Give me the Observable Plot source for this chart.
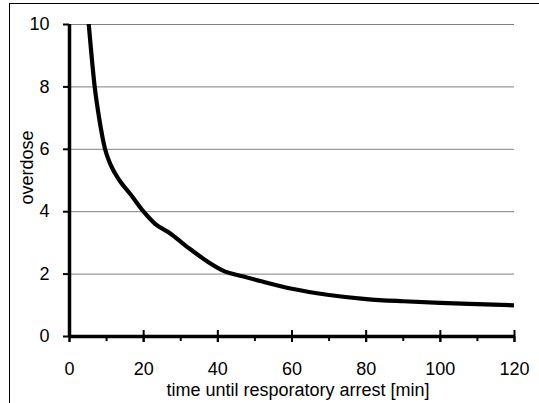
<!DOCTYPE html>
<html><head><meta charset="utf-8">
<script src="https://cdn.jsdelivr.net/npm/d3@7"></script>
<script src="https://cdn.jsdelivr.net/npm/@observablehq/plot@0.6"></script>
<style>
body{margin:0;background:#fff;}
#wrap{position:relative;width:539px;height:403px;overflow:hidden;background:#fff;}
#border{position:absolute;left:8.5px;top:2.5px;width:600px;height:500px;border-left:1.5px solid #000;border-top:1.5px solid #000;pointer-events:none;}
#chart{position:absolute;left:0;top:0;}
</style></head><body>
<div id="wrap"><div id="chart"></div><div id="border"></div></div>
<script>
const times    = [5.2, 6.8, 8.0, 9.6, 11.1, 13.5, 16.5, 20, 23, 27, 32, 37, 42, 46, 52, 60, 70, 80, 90, 100, 110, 120];
const overdose = [10, 8, 7.0, 6.0, 5.5, 5.0, 4.55, 4.0, 3.62, 3.32, 2.85, 2.42, 2.08, 1.95, 1.76, 1.53, 1.33, 1.2, 1.13, 1.08, 1.04, 1.0];
const xTicks = [0, 20, 40, 60, 80, 100, 120];
const xMinorTicks = [10, 30, 50, 70, 90, 110];
const yTicks = [0, 2, 4, 6, 8, 10];
const xLabel = "time until resporatory arrest [min]";
const yLabel = "overdose";

const data = times.map((t, i) => ({t, v: overdose[i]}));

const chart = Plot.plot({
  width: 539, height: 403,
  marginLeft: 69, marginRight: 25, marginTop: 24, marginBottom: 67,
  style: {fontFamily: "'Liberation Sans', Arial, sans-serif", fontSize: "18px", background: "transparent", color: "#000", overflow: "visible"},
  x: {domain: [0, 120]},
  y: {domain: [0, 10]},
  marks: [
    Plot.gridY(yTicks.filter(d => d > 0), {stroke: "#808080", strokeOpacity: 1, strokeWidth: 1}),
    Plot.line(data, {x: "t", y: "v", curve: "monotone-x", stroke: "#000", strokeWidth: 4.2, clip: true}),
    Plot.axisY(yTicks, {tickSize: 6, tickPadding: 14, strokeWidth: 2, label: null, fontSize: 18}),
    Plot.axisX(xTicks, {tickSize: 6, tickPadding: 20, strokeWidth: 2, label: null, fontSize: 18}),
    Plot.axisX(xMinorTicks, {tickSize: 5, strokeWidth: 2, text: null, label: null}),
    Plot.ruleX(xTicks, {x: d => d, y1: 0, y2: 0, insetTop: -6, insetBottom: -6, strokeWidth: 2, stroke: "#000"}),
    Plot.ruleX([0], {stroke: "#000", strokeWidth: 3.5}),
    Plot.ruleY([0], {stroke: "#000", strokeWidth: 3.5}),
    Plot.text([xLabel], {text: d => d, frameAnchor: "bottom", lineAnchor: "top", dy: 47, dx: 6, fontSize: 18}),
    Plot.text([yLabel], {text: d => d, frameAnchor: "left", textAnchor: "middle", rotate: -90, lineAnchor: "bottom", dx: -37, dy: -13, fontSize: 18})
  ]
});
document.getElementById("chart").appendChild(chart);
</script>
</body></html>
